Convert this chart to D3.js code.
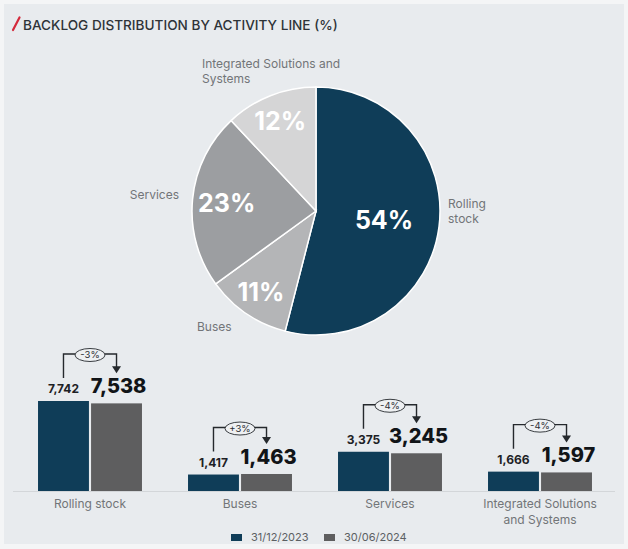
<!DOCTYPE html>
<html>
<head>
<meta charset="utf-8">
<script src="https://cdn.jsdelivr.net/npm/d3@7"></script>
<style>
  html, body { margin: 0; padding: 0; background: #f4f5f6; }
  svg { display: block; font-family: Inter, "Open Sans", sans-serif; }
</style>
</head>
<body>
<svg id="chart" width="628" height="549"></svg>
<script>
// Backlog by activity line: share of total (pie) and amounts at two dates (bars)
const pieCategories = ["Rolling stock", "Buses", "Services", "Integrated Solutions and Systems"];
const pieShares = [54, 11, 23, 12];
const pieOuterLabels = [["Rolling", "stock"], ["Buses"], ["Services"], ["Integrated Solutions and", "Systems"]];

const barCategories = ["Rolling stock", "Buses", "Services", "Integrated Solutions and Systems"];
const barLabelLines = [["Rolling stock"], ["Buses"], ["Services"], ["Integrated Solutions", "and Systems"]];
const backlog2023 = [7742, 1417, 3375, 1666];
const backlog2024 = [7538, 1463, 3245, 1597];
const changeLabels = ["-3%", "+3%", "-4%", "-4%"];
const periods = ["31/12/2023", "30/06/2024"];

const W = 628, H = 549;
const svg = d3.select("#chart");

// panel
svg.append("rect").attr("x", 4).attr("y", 4).attr("width", W - 8).attr("height", H - 9)
  .attr("fill", "#e8ebee");

// title with red slash mark
svg.append("line").attr("x1", 13).attr("y1", 30).attr("x2", 19.5).attr("y2", 17.5)
  .attr("stroke", "#d42a3c").attr("stroke-width", 2.2).attr("stroke-linecap", "round");
svg.append("text").attr("x", 23).attr("y", 30)
  .attr("font-size", 13.6).attr("font-weight", 500).attr("fill", "#2e3338")
  .text("BACKLOG DISTRIBUTION BY ACTIVITY LINE (%)");

// ---- pie ----
const cx = 316, cy = 211, R = 124;
const pieColors = ["#0f3d58", "#b4b5b7", "#9c9ea1", "#d5d5d6"];
const pie = d3.pie().sort(null).value(d => d)(pieShares);
const arc = d3.arc().innerRadius(0).outerRadius(R);
const gPie = svg.append("g").attr("transform", `translate(${cx},${cy})`);

gPie.selectAll("path").data(pie).join("path")
  .attr("d", arc)
  .attr("fill", (d, i) => pieColors[i])
  .attr("stroke", "#ffffff").attr("stroke-width", 1.5);

// larger slices carry their label nearer the centre
gPie.selectAll("text.pct").data(pie).join("text").attr("class", "pct")
  .attr("transform", d => {
    const share = d.value / 100;
    const r = R * (0.85 - 0.55 * share);
    const a = (d.startAngle + d.endAngle) / 2;
    return `translate(${r * Math.sin(a)},${-r * Math.cos(a)})`;
  })
  .attr("text-anchor", "middle").attr("dy", "0.36em")
  .attr("font-size", 25).attr("font-weight", 700).attr("fill", "#ffffff")
  .text(d => d.value + "%");

// category names outside the pie
const outerPos = [
  { x: 448, y: 208, anchor: "start" },
  { x: 197, y: 331, anchor: "start" },
  { x: 179, y: 199, anchor: "end" },
  { x: 202, y: 68, anchor: "start" }
];
pieOuterLabels.forEach((lines, i) => {
  const t = svg.append("text").attr("x", outerPos[i].x).attr("y", outerPos[i].y)
    .attr("text-anchor", outerPos[i].anchor)
    .attr("font-size", 12).attr("fill", "#727578");
  lines.forEach((ln, k) => {
    t.append("tspan").attr("x", outerPos[i].x).attr("dy", k === 0 ? 0 : 14.5).text(ln);
  });
});

// ---- grouped bars ----
const baseY = 491;
const x0 = d3.scaleBand().domain(barCategories).range([15, 615])
  .paddingInner(0.307).paddingOuter(0.1535);
const x1 = d3.scaleBand().domain(periods).range([0, x0.bandwidth()]).paddingInner(0.04);
const y = d3.scaleLinear().domain([0, d3.max(backlog2023.concat(backlog2024))]).range([baseY, baseY - 90]);
const barColors = ["#0f3d58", "#5e5e5f"];

svg.append("line").attr("x1", 13).attr("x2", 615).attr("y1", baseY + 0.5).attr("y2", baseY + 0.5)
  .attr("stroke", "#d3d6d9").attr("stroke-width", 1);

const fmt = d3.format(",");
const groups = svg.selectAll("g.grp").data(barCategories).join("g").attr("class", "grp")
  .attr("transform", d => `translate(${x0(d)},0)`);

groups.each(function (cat, i) {
  const g = d3.select(this);
  const vals = [backlog2023[i], backlog2024[i]];
  vals.forEach((v, k) => {
    g.append("rect").attr("x", x1(periods[k])).attr("width", x1.bandwidth())
      .attr("y", y(v)).attr("height", baseY - y(v)).attr("fill", barColors[k]);
  });
  const c0 = x1(periods[0]) + x1.bandwidth() / 2;
  const c1 = x1(periods[1]) + x1.bandwidth() / 2;
  const ySmall = y(vals[0]) - 8;
  const yBig = y(vals[1]) - 10;
  g.append("text").attr("x", c0).attr("y", ySmall).attr("text-anchor", "middle")
    .attr("font-size", 12).attr("font-weight", 700).attr("fill", "#1d2125")
    .text(fmt(vals[0]));
  g.append("text").attr("x", c1 + 2).attr("y", yBig).attr("text-anchor", "middle")
    .attr("font-size", 20).attr("font-weight", 800).attr("fill", "#111417")
    .text(fmt(vals[1]));

  // change bracket
  const top = ySmall - 39;
  const tip = yBig - 21;
  g.append("path")
    .attr("d", `M${c0},${ySmall - 15}V${top}H${c1}V${tip - 5}`)
    .attr("fill", "none").attr("stroke", "#25292d").attr("stroke-width", 1.4);
  g.append("path")
    .attr("d", `M${c1 - 4.5},${tip - 6}L${c1 + 4.5},${tip - 6}L${c1},${tip + 1}Z`)
    .attr("fill", "#25292d");
  const mid = (c0 + c1) / 2;
  g.append("ellipse").attr("cx", mid).attr("cy", top + 1).attr("rx", 15).attr("ry", 6.5)
    .attr("fill", "#eef0f2").attr("stroke", "#3a3e42").attr("stroke-width", 1);
  g.append("text").attr("x", mid).attr("y", top + 1).attr("dy", "0.35em")
    .attr("text-anchor", "middle").attr("font-size", 9.5).attr("fill", "#2a2e32")
    .text(changeLabels[i]);

  // category label
  const lt = g.append("text").attr("x", x0.bandwidth() / 2).attr("y", 508)
    .attr("text-anchor", "middle").attr("font-size", 12).attr("fill", "#727578");
  barLabelLines[i].forEach((ln, k) => {
    lt.append("tspan").attr("x", x0.bandwidth() / 2).attr("dy", k === 0 ? 0 : 16).text(ln);
  });
});

// ---- legend ----
const legendX = [231, 324];
periods.forEach((p, k) => {
  svg.append("rect").attr("x", legendX[k]).attr("y", 534).attr("width", 11).attr("height", 7)
    .attr("fill", barColors[k]);
  svg.append("text").attr("x", legendX[k] + 20).attr("y", 541)
    .attr("font-size", 11).attr("fill", "#5b5f63").text(p);
});
</script>
</body>
</html>
